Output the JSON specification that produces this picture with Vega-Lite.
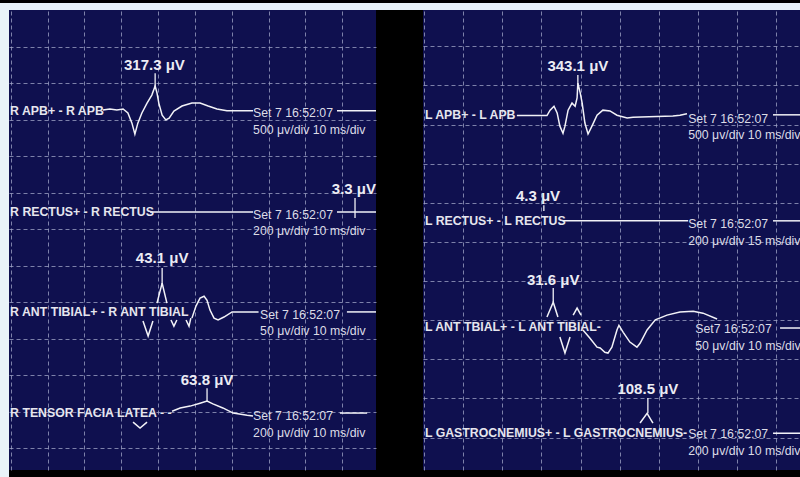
{
  "$schema": "https://vega.github.io/schema/vega-lite/v6.json",
  "background": "#000000",
  "padding": 0,
  "autosize": {"type": "pad"},
  "bounds": "flush",
  "spacing": 0,
  "config": {
    "view": {"stroke": null},
    "axis": {"minExtent": 0, "labels": false, "ticks": false, "domain": false, "title": null, "grid": true, "gridColor": "#a3a7c8", "gridDash": [4, 3], "gridWidth": 1, "gridOpacity": 0.75},
    "font": "Liberation Sans"
  },
  "datasets": {
    "lt": [
      {"seg": "RAPB", "t": 25.0, "y": 2.74}, {"seg": "RAPB", "t": 26.9, "y": 2.71}, {"seg": "RAPB", "t": 28.8, "y": 2.74}, {"seg": "RAPB", "t": 30.5, "y": 2.71},
      {"seg": "RAPB", "t": 31.8, "y": 2.82}, {"seg": "RAPB", "t": 32.9, "y": 3.10}, {"seg": "RAPB", "t": 33.7, "y": 3.40}, {"seg": "RAPB", "t": 34.5, "y": 3.10},
      {"seg": "RAPB", "t": 35.6, "y": 2.82}, {"seg": "RAPB", "t": 37.0, "y": 2.55}, {"seg": "RAPB", "t": 38.3, "y": 2.33}, {"seg": "RAPB", "t": 39.2, "y": 2.08},
      {"seg": "RAPB", "t": 39.7, "y": 2.27}, {"seg": "RAPB", "t": 40.2, "y": 2.55}, {"seg": "RAPB", "t": 41.1, "y": 2.88}, {"seg": "RAPB", "t": 42.1, "y": 3.01},
      {"seg": "RAPB", "t": 43.0, "y": 2.96}, {"seg": "RAPB", "t": 44.3, "y": 2.77}, {"seg": "RAPB", "t": 46.5, "y": 2.63}, {"seg": "RAPB", "t": 49.2, "y": 2.55},
      {"seg": "RAPB", "t": 51.4, "y": 2.55}, {"seg": "RAPB", "t": 53.6, "y": 2.63}, {"seg": "RAPB", "t": 56.0, "y": 2.71}, {"seg": "RAPB", "t": 58.7, "y": 2.76},
      {"seg": "RAPB", "t": 65.8, "y": 2.76},
      {"seg": "RAPB2", "t": 88.6, "y": 2.76}, {"seg": "RAPB2", "t": 99.2, "y": 2.76},
      {"seg": "RREC", "t": 37.8, "y": 5.53}, {"seg": "RREC", "t": 65.8, "y": 5.53},
      {"seg": "RREC2", "t": 88.6, "y": 5.53}, {"seg": "RREC2", "t": 99.2, "y": 5.53},
      {"seg": "RATV", "t": 35.9, "y": 8.52}, {"seg": "RATV", "t": 37.3, "y": 8.93}, {"seg": "RATV", "t": 38.6, "y": 8.52},
      {"seg": "RATL", "t": 39.7, "y": 8.03}, {"seg": "RATL", "t": 41.1, "y": 7.48}, {"seg": "RATL", "t": 42.4, "y": 8.03},
      {"seg": "RATv", "t": 43.5, "y": 8.49}, {"seg": "RATv", "t": 44.3, "y": 8.66}, {"seg": "RATv", "t": 45.1, "y": 8.49},
      {"seg": "RATV2", "t": 47.6, "y": 8.49}, {"seg": "RATV2", "t": 48.4, "y": 8.66}, {"seg": "RATV2", "t": 48.9, "y": 8.44},
      {"seg": "RATM", "t": 49.2, "y": 8.44}, {"seg": "RATM", "t": 50.3, "y": 8.11}, {"seg": "RATM", "t": 51.4, "y": 7.89}, {"seg": "RATM", "t": 52.5, "y": 7.84},
      {"seg": "RATM", "t": 53.3, "y": 7.95}, {"seg": "RATM", "t": 54.1, "y": 8.22}, {"seg": "RATM", "t": 55.2, "y": 8.44}, {"seg": "RATM", "t": 56.3, "y": 8.49},
      {"seg": "RATM", "t": 57.9, "y": 8.41}, {"seg": "RATM", "t": 60.1, "y": 8.27}, {"seg": "RATM", "t": 67.3, "y": 8.27},
      {"seg": "RAT2", "t": 91.3, "y": 8.27}, {"seg": "RAT2", "t": 99.2, "y": 8.27},
      {"seg": "RTFv", "t": 33.2, "y": 11.29}, {"seg": "RTFv", "t": 35.1, "y": 11.45}, {"seg": "RTFv", "t": 37.0, "y": 11.29},
      {"seg": "RTFM", "t": 43.8, "y": 10.99}, {"seg": "RTFM", "t": 46.0, "y": 10.90}, {"seg": "RTFM", "t": 48.7, "y": 10.85}, {"seg": "RTFM", "t": 51.4, "y": 10.77},
      {"seg": "RTFM", "t": 53.3, "y": 10.71}, {"seg": "RTFM", "t": 54.9, "y": 10.79}, {"seg": "RTFM", "t": 57.6, "y": 10.90}, {"seg": "RTFM", "t": 60.4, "y": 11.04},
      {"seg": "RTFM", "t": 64.2, "y": 11.10}, {"seg": "RTFM", "t": 65.8, "y": 11.12},
      {"seg": "RTF2", "t": 89.4, "y": 11.04}, {"seg": "RTF2", "t": 96.8, "y": 11.04}
    ],
    "lm": [
      {"t": 39.2, "y": 1.73, "y2": 2.14},
      {"t": 93.5, "y": 5.15, "y2": 5.70},
      {"t": 41.1, "y": 7.07, "y2": 7.51},
      {"t": 53.3, "y": 10.36, "y2": 10.74}
    ],
    "la": [
      {"t": 39.0, "y": 1.51, "text": "317.3 μV"},
      {"t": 93.2, "y": 4.90, "text": "3.3 μV"},
      {"t": 41.1, "y": 6.79, "text": "43.1 μV"},
      {"t": 53.3, "y": 10.14, "text": "63.8 μV"}
    ],
    "lc": [
      {"t": -0.2, "y": 2.77, "text": "R APB+ - R APB"},
      {"t": -0.2, "y": 5.53, "text": "R RECTUS+ - R RECTUS"},
      {"t": -0.2, "y": 8.27, "text": "R ANT TIBIAL+ - R ANT TIBIAL"},
      {"t": -0.2, "y": 11.05, "text": "R TENSOR FACIA LATEA - -"}
    ],
    "li": [
      {"t": 65.8, "y": 2.82, "text": "Set 7 16:52:07"},
      {"t": 65.8, "y": 3.30, "text": "500 μv/div 10 ms/div"},
      {"t": 65.8, "y": 5.62, "text": "Set 7 16:52:07"},
      {"t": 65.8, "y": 6.06, "text": "200 μv/div 10 ms/div"},
      {"t": 67.7, "y": 8.36, "text": "Set 7 16:52:07"},
      {"t": 67.7, "y": 8.79, "text": "50 μv/div 10 ms/div"},
      {"t": 65.8, "y": 11.12, "text": "Set 7 16:52:07"},
      {"t": 65.8, "y": 11.59, "text": "200 μv/div 10 ms/div"}
    ],
    "rt": [
      {"seg": "LAPB", "t": 23.7, "y": 2.77}, {"seg": "LAPB", "t": 31.4, "y": 2.77}, {"seg": "LAPB", "t": 32.2, "y": 2.63}, {"seg": "LAPB", "t": 33.2, "y": 2.53},
      {"seg": "LAPB", "t": 34.0, "y": 2.70}, {"seg": "LAPB", "t": 34.7, "y": 3.04}, {"seg": "LAPB", "t": 35.5, "y": 3.22}, {"seg": "LAPB", "t": 36.0, "y": 3.04},
      {"seg": "LAPB", "t": 36.8, "y": 2.63}, {"seg": "LAPB", "t": 37.8, "y": 2.45}, {"seg": "LAPB", "t": 38.6, "y": 2.53}, {"seg": "LAPB", "t": 39.1, "y": 2.32},
      {"seg": "LAPB", "t": 39.3, "y": 1.94}, {"seg": "LAPB", "t": 39.9, "y": 2.19}, {"seg": "LAPB", "t": 40.4, "y": 2.45}, {"seg": "LAPB", "t": 41.1, "y": 2.96},
      {"seg": "LAPB", "t": 41.9, "y": 3.24}, {"seg": "LAPB", "t": 42.9, "y": 3.04}, {"seg": "LAPB", "t": 44.2, "y": 2.76}, {"seg": "LAPB", "t": 45.7, "y": 2.63},
      {"seg": "LAPB", "t": 47.5, "y": 2.65}, {"seg": "LAPB", "t": 49.3, "y": 2.76}, {"seg": "LAPB", "t": 51.9, "y": 2.83}, {"seg": "LAPB", "t": 53.4, "y": 2.81},
      {"seg": "LAPB", "t": 63.6, "y": 2.78}, {"seg": "LAPB", "t": 65.4, "y": 2.76}, {"seg": "LAPB", "t": 67.2, "y": 2.72},
      {"seg": "LAPB2", "t": 89.2, "y": 2.75}, {"seg": "LAPB2", "t": 96.1, "y": 2.75},
      {"seg": "LREC", "t": 35.5, "y": 5.46}, {"seg": "LREC", "t": 67.5, "y": 5.46},
      {"seg": "LREC2", "t": 89.2, "y": 5.46}, {"seg": "LREC2", "t": 96.1, "y": 5.46},
      {"seg": "LATL1", "t": 31.4, "y": 7.92}, {"seg": "LATL1", "t": 33.0, "y": 7.54}, {"seg": "LATL1", "t": 34.2, "y": 7.92},
      {"seg": "LATL2", "t": 38.1, "y": 7.87}, {"seg": "LATL2", "t": 39.1, "y": 7.69}, {"seg": "LATL2", "t": 40.1, "y": 7.87},
      {"seg": "LATV", "t": 34.7, "y": 8.43}, {"seg": "LATV", "t": 36.0, "y": 8.84}, {"seg": "LATV", "t": 37.3, "y": 8.43},
      {"seg": "LATM", "t": 40.6, "y": 8.25}, {"seg": "LATM", "t": 42.4, "y": 8.46}, {"seg": "LATM", "t": 44.2, "y": 8.69}, {"seg": "LATM", "t": 45.0, "y": 8.71},
      {"seg": "LATM", "t": 46.2, "y": 8.82}, {"seg": "LATM", "t": 47.0, "y": 8.84}, {"seg": "LATM", "t": 48.0, "y": 8.69}, {"seg": "LATM", "t": 49.3, "y": 8.25},
      {"seg": "LATM", "t": 49.8, "y": 8.13}, {"seg": "LATM", "t": 50.9, "y": 8.31}, {"seg": "LATM", "t": 52.6, "y": 8.56}, {"seg": "LATM", "t": 54.4, "y": 8.69},
      {"seg": "LATM", "t": 55.2, "y": 8.59}, {"seg": "LATM", "t": 57.0, "y": 8.25}, {"seg": "LATM", "t": 59.1, "y": 7.99}, {"seg": "LATM", "t": 62.1, "y": 7.87},
      {"seg": "LATM", "t": 65.4, "y": 7.79}, {"seg": "LATM", "t": 68.8, "y": 7.77}, {"seg": "LATM", "t": 71.3, "y": 7.82}, {"seg": "LATM", "t": 74.9, "y": 7.97},
      {"seg": "LAT2", "t": 91.0, "y": 8.20}, {"seg": "LAT2", "t": 96.1, "y": 8.20},
      {"seg": "LGASL", "t": 55.2, "y": 10.63}, {"seg": "LGASL", "t": 57.0, "y": 10.38}, {"seg": "LGASL", "t": 58.5, "y": 10.63},
      {"seg": "LGAS2", "t": 89.2, "y": 10.89}, {"seg": "LGAS2", "t": 96.1, "y": 10.89}
    ],
    "rm": [
      {"t": 39.3, "y": 1.73, "y2": 2.09},
      {"t": 30.6, "y": 5.06, "y2": 5.21},
      {"t": 33.0, "y": 7.18, "y2": 7.54},
      {"t": 57.2, "y": 9.99, "y2": 10.38}
    ],
    "ra": [
      {"t": 39.3, "y": 1.50, "text": "343.1 μV"},
      {"t": 29.1, "y": 4.83, "text": "4.3 μV"},
      {"t": 33.0, "y": 6.98, "text": "31.6 μV"},
      {"t": 57.2, "y": 9.76, "text": "108.5 μV"}
    ],
    "rc": [
      {"t": 0.2, "y": 2.76, "text": "L APB+ - L APB"},
      {"t": 0.2, "y": 5.47, "text": "L RECTUS+ - L RECTUS"},
      {"t": 0.2, "y": 8.18, "text": "L ANT TBIAL+ - L ANT TIBIAL-"},
      {"t": 0.2, "y": 10.89, "text": "L GASTROCNEMIUS+ - L GASTROCNEMIUS-"}
    ],
    "ri": [
      {"t": 67.5, "y": 2.85, "text": "Set 7 16:52:07"},
      {"t": 67.5, "y": 3.26, "text": "500 μv/div 10 ms/div"},
      {"t": 67.5, "y": 5.54, "text": "Set 7 16:52:07"},
      {"t": 67.5, "y": 5.97, "text": "200 μv/div 15 ms/div"},
      {"t": 69.3, "y": 8.23, "text": "Set7 16:52:07"},
      {"t": 69.3, "y": 8.66, "text": "50 μv/div 10 ms/div"},
      {"t": 67.5, "y": 10.91, "text": "Set 7 16:52:07"},
      {"t": 67.5, "y": 11.35, "text": "200 μv/div 10 ms/div"}
    ]
  },
  "vconcat": [
    {
      "width": 800, "height": 7,
      "view": {"fill": "#e9f3f9", "stroke": null},
      "data": {"values": [{}]},
      "mark": {"type": "text", "text": ""}
    },
    {
      "spacing": 0,
      "bounds": "flush",
      "hconcat": [
        {
          "width": 9, "height": 470,
          "view": {"fill": "#e9f3f9", "stroke": null},
          "data": {"values": [{}]},
          "mark": {"type": "text", "text": ""}
        },
        {
          "width": 367, "height": 460,
          "view": {"fill": "#0f104f", "stroke": null},
          "encoding": {
            "x": {"field": "t", "type": "quantitative", "scale": {"domain": [-0.5, 99.2], "nice": false, "zero": false}, "axis": {"values": [0, 10, 20, 30, 40, 50, 60, 70, 80, 90]}},
            "y": {"field": "y", "type": "quantitative", "scale": {"domain": [0, 12.6], "reverse": true, "nice": false, "zero": false}, "axis": {"values": [1, 2, 3, 4, 5, 6, 7, 8, 9, 10, 11, 12]}}
          },
          "layer": [
            {"data": {"name": "lt"}, "mark": {"type": "line", "color": "#f2f2f7", "strokeWidth": 1.5}, "encoding": {"detail": {"field": "seg"}}},
            {"data": {"name": "lm"}, "mark": {"type": "rule", "color": "#f2f2f7", "strokeWidth": 1.3}, "encoding": {"y2": {"field": "y2"}}},
            {"data": {"name": "la"}, "mark": {"type": "text", "align": "center", "baseline": "middle", "fontWeight": "bold", "fontSize": 15, "color": "#ececf4"}, "encoding": {"text": {"field": "text"}}},
            {"data": {"name": "lc"}, "mark": {"type": "text", "align": "left", "baseline": "middle", "fontWeight": "bold", "fontSize": 12.3, "color": "#e6e6ee"}, "encoding": {"text": {"field": "text"}}},
            {"data": {"name": "li"}, "mark": {"type": "text", "align": "left", "baseline": "middle", "fontSize": 12.3, "color": "#dcdce6"}, "encoding": {"text": {"field": "text"}}}
          ]
        },
        {
          "width": 47, "height": 470,
          "data": {"values": [{}]},
          "mark": {"type": "text", "text": ""}
        },
        {
          "width": 377, "height": 460,
          "view": {"fill": "#0f104f", "stroke": null},
          "encoding": {
            "x": {"field": "t", "type": "quantitative", "scale": {"domain": [-0.3, 96.1], "nice": false, "zero": false}, "axis": {"values": [0, 10, 20, 30, 40, 50, 60, 70, 80, 90]}},
            "y": {"field": "y", "type": "quantitative", "scale": {"domain": [0.07, 11.83], "reverse": true, "nice": false, "zero": false}, "axis": {"values": [1, 2, 3, 4, 5, 6, 7, 8, 9, 10, 11]}}
          },
          "layer": [
            {"data": {"name": "rt"}, "mark": {"type": "line", "color": "#f2f2f7", "strokeWidth": 1.5}, "encoding": {"detail": {"field": "seg"}}},
            {"data": {"name": "rm"}, "mark": {"type": "rule", "color": "#f2f2f7", "strokeWidth": 1.3}, "encoding": {"y2": {"field": "y2"}}},
            {"data": {"name": "ra"}, "mark": {"type": "text", "align": "center", "baseline": "middle", "fontWeight": "bold", "fontSize": 15, "color": "#ececf4"}, "encoding": {"text": {"field": "text"}}},
            {"data": {"name": "rc"}, "mark": {"type": "text", "align": "left", "baseline": "middle", "fontWeight": "bold", "fontSize": 12.3, "color": "#e6e6ee"}, "encoding": {"text": {"field": "text"}}},
            {"data": {"name": "ri"}, "mark": {"type": "text", "align": "left", "baseline": "middle", "fontSize": 12.3, "color": "#dcdce6"}, "encoding": {"text": {"field": "text"}}}
          ]
        }
      ]
    }
  ]
}
